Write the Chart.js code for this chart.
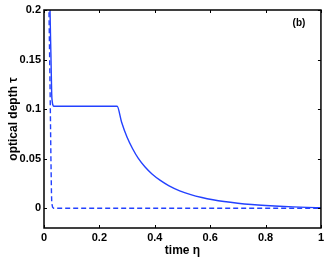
<!DOCTYPE html>
<html>
<head>
<meta charset="utf-8">
<script src="https://cdn.jsdelivr.net/npm/chart.js@4/dist/chart.umd.min.js"></script>
<style>
html,body{margin:0;padding:0;background:#fff;}
#wrap{width:327px;height:258px;}
</style>
</head>
<body>
<div id="wrap"><canvas id="c" width="327" height="258"></canvas></div>
<script>
const xTicks = [0, 0.2, 0.4, 0.6, 0.8, 1];
const yTicks = [0, 0.05, 0.1, 0.15, 0.2];
const xTickLabels = ['0', '0.2', '0.4', '0.6', '0.8', '1'];
const yTickLabels = ['0', '0.05', '0.1', '0.15', '0.2'];

const solidX = [0.0205, 0.0217, 0.025, 0.0277, 0.030, 0.033, 0.036, 0.10, 0.20, 0.264, 0.280, 0.300, 0.320, 0.340, 0.365, 0.390, 0.420, 0.450, 0.490, 0.530, 0.570, 0.610, 0.650, 0.700, 0.750, 0.800, 0.850, 0.900, 0.950, 1.0];
const solidY = [0.23, 0.2, 0.155, 0.116, 0.107, 0.1035, 0.1028, 0.1028, 0.1028, 0.1028, 0.087, 0.0715, 0.060, 0.0505, 0.0415, 0.0345, 0.028, 0.0228, 0.0175, 0.0137, 0.0108, 0.0085, 0.0067, 0.0050, 0.0037, 0.0027, 0.0019, 0.0013, 0.0008, 0.0004];

const dashX = [0.017, 0.018, 0.022, 0.025, 0.027, 0.028, 0.031, 0.035, 0.2, 0.4, 0.6, 0.8, 1.0];
const dashY = [0.23, 0.2, 0.12, 0.05, 0.015, 0.005, 0.001, 0, 0, 0, 0, 0, 0];

const seriesNames = ['solid', 'dashed'];
const xTitle = 'time η';
const yTitle = 'optical depth τ';
const panelLabel = '(b)';

const toPts = (xs, ys) => xs.map((x, i) => ({x: x, y: ys[i]}));
const BLUE = 'rgb(35,65,255)';

const framePlugin = {
  id: 'frame',
  afterDraw(chart) {
    const {ctx, chartArea: {left, right, top, bottom}, scales: {x, y}} = chart;
    ctx.save();
    ctx.strokeStyle = '#000';
    ctx.lineWidth = 1.5;
    ctx.strokeRect(left, top, right - left, bottom - top);
    ctx.lineWidth = 1;
    const tl = 3;
    ctx.beginPath();
    x.ticks.forEach(t => {
      const px = Math.round(x.getPixelForValue(t.value)) + 0.5;
      ctx.moveTo(px, bottom); ctx.lineTo(px, bottom - tl);
      ctx.moveTo(px, top); ctx.lineTo(px, top + tl);
    });
    y.ticks.forEach(t => {
      const py = Math.round(y.getPixelForValue(t.value)) + 0.5;
      ctx.moveTo(left, py); ctx.lineTo(left + tl, py);
      ctx.moveTo(right, py); ctx.lineTo(right - tl, py);
    });
    ctx.stroke();
    ctx.fillStyle = '#000';
    ctx.font = 'bold 10px "Liberation Sans", Arial, sans-serif';
    ctx.textAlign = 'center';
    ctx.textBaseline = 'middle';
    ctx.fillText(panelLabel, right - 22, top + 13);
    ctx.restore();
  }
};

new Chart(document.getElementById('c'), {
  type: 'line',
  data: {
    datasets: [
      {label: seriesNames[0], data: toPts(solidX, solidY), borderColor: BLUE, borderWidth: 1.4, pointRadius: 0, cubicInterpolationMode: 'monotone', fill: false},
      {label: seriesNames[1], data: toPts(dashX, dashY), borderColor: BLUE, borderWidth: 1.4, borderDash: [5, 3], pointRadius: 0, tension: 0, fill: false}
    ]
  },
  options: {
    responsive: false,
    animation: false,
    devicePixelRatio: 1,
    layout: {padding: {top: 10, right: 6, left: 0, bottom: 0}},
    plugins: {legend: {display: false}, tooltip: {enabled: false}},
    scales: {
      x: {
        type: 'linear', min: 0, max: 1,
        afterBuildTicks: s => { s.ticks = xTicks.map(v => ({value: v})); },
        afterFit: s => { s.height = 30; },
        grid: {display: false, drawTicks: false},
        border: {display: false},
        ticks: {
          padding: 3, color: '#000', maxRotation: 0,
          font: {family: '"Liberation Sans", Arial, sans-serif', weight: 'bold', size: 11},
          callback: (v) => { const i = xTicks.indexOf(v); return i >= 0 ? xTickLabels[i] : ''; }
        },
        title: {display: true, text: xTitle, color: '#000', padding: {top: 0, bottom: 0},
          font: {family: '"Liberation Sans", Arial, sans-serif', weight: 'bold', size: 12}}
      },
      y: {
        type: 'linear', min: -0.02, max: 0.2,
        afterBuildTicks: s => { s.ticks = yTicks.map(v => ({value: v})); },
        afterFit: s => { s.width = 44; },
        grid: {display: false, drawTicks: false},
        border: {display: false},
        ticks: {
          padding: 3, color: '#000',
          font: {family: '"Liberation Sans", Arial, sans-serif', weight: 'bold', size: 11},
          callback: (v) => { const i = yTicks.indexOf(v); return i >= 0 ? yTickLabels[i] : ''; }
        },
        title: {display: true, text: yTitle, color: '#000', padding: {top: 6, bottom: 0},
          font: {family: '"Liberation Sans", Arial, sans-serif', weight: 'bold', size: 12}}
      }
    }
  },
  plugins: [framePlugin]
});
</script>
</body>
</html>
